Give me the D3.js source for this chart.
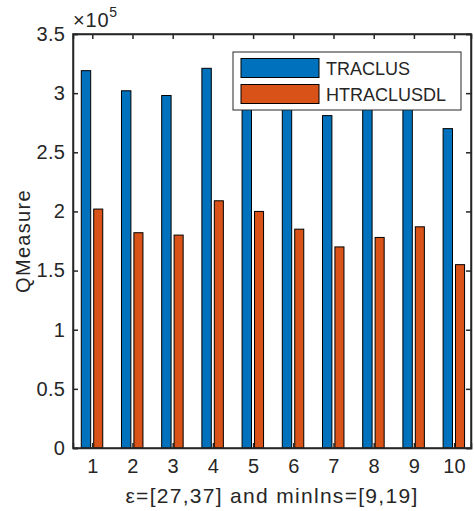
<!DOCTYPE html>
<html>
<head>
<meta charset="utf-8">
<script src="https://cdn.jsdelivr.net/npm/d3@7"></script>
<style>
  body { margin: 0; background: #fff; }
  text { font-family: "Liberation Sans", Arial, sans-serif; fill: #262626; }
</style>
</head>
<body>
<div class="chart"></div>
<script>
// values in units of 10^5
var groups = [1, 2, 3, 4, 5, 6, 7, 8, 9, 10];
var traclus = [3.19, 3.02, 2.98, 3.21, 3.05, 2.95, 2.81, 2.95, 3.0, 2.70];
var htraclusdl = [2.02, 1.82, 1.80, 2.09, 2.00, 1.85, 1.70, 1.78, 1.87, 1.55];
var yTicks = [0, 0.5, 1, 1.5, 2, 2.5, 3, 3.5];
var seriesNames = ["TRACLUS", "HTRACLUSDL"];
var seriesColors = ["#0072BD", "#D95319"];

var svgWidth = 474;
var svgHeight = 511;

var margin = { top: 34, right: 3, bottom: 63, left: 73 };
var width = svgWidth - margin.left - margin.right;
var height = svgHeight - margin.top - margin.bottom;

var svg = d3.select(".chart")
    .append("svg")
    .attr("width", svgWidth)
    .attr("height", svgHeight);

var chartGroup = svg.append("g")
    .attr("transform", `translate(${margin.left}, ${margin.top})`);

var x = d3.scaleLinear().domain([0.52, 10.42]).range([0, width]);
var y = d3.scaleLinear().domain([0, 3.5]).range([height, 0]);

// bar offsets relative to the group centre, in x units
var offsets = [[-0.274, -0.04], [0.035, 0.26]];

[traclus, htraclusdl].forEach(function(vals, s) {
    chartGroup.selectAll(".bar" + s)
        .data(vals)
        .enter()
        .append("rect")
        .attr("x", (d, i) => x(groups[i] + offsets[s][0]))
        .attr("width", x(offsets[s][1]) - x(offsets[s][0]))
        .attr("y", d => y(d))
        .attr("height", d => y(0) - y(d))
        .attr("fill", seriesColors[s])
        .attr("stroke", "#000")
        .attr("stroke-width", 1);
});

// axes, ticks inward
var axisColor = "#262626";
var tickLen = 5;

var leftAxis = d3.axisLeft(y).tickValues(yTicks).tickSize(-tickLen).tickPadding(8)
    .tickFormat(d3.format("~g"));
var bottomAxis = d3.axisBottom(x).tickValues(groups).tickSize(-tickLen).tickPadding(11);
var rightAxis = d3.axisRight(y).tickValues(yTicks).tickSize(-tickLen).tickFormat("");
var topAxis = d3.axisTop(x).tickValues(groups).tickSize(-tickLen).tickFormat("");

function styleAxis(g) {
    g.selectAll("path").attr("stroke", axisColor).attr("stroke-width", 1.5);
    g.selectAll("line").attr("stroke", axisColor).attr("stroke-width", 1.5);
    g.selectAll("text").attr("font-size", 20).attr("fill", axisColor)
        .attr("letter-spacing", 0.2)
        .attr("font-family", "'Liberation Sans', Arial, sans-serif");
}

chartGroup.append("g").call(leftAxis).call(styleAxis);
chartGroup.append("g").attr("transform", `translate(0, ${height})`).call(bottomAxis).call(styleAxis);
chartGroup.append("g").attr("transform", `translate(${width}, 0)`).call(rightAxis).call(styleAxis);
chartGroup.append("g").call(topAxis).call(styleAxis);

chartGroup.append("rect")
    .attr("width", width).attr("height", height)
    .attr("fill", "none").attr("stroke", axisColor).attr("stroke-width", 1.5);

// exponent label
var expo = svg.append("text").attr("x", 73).attr("y", 27).attr("font-size", 20)
    .attr("letter-spacing", 0.8);
expo.append("tspan").text("\u00d710");
expo.append("tspan").attr("font-size", 14).attr("dy", -10).text("5");

// axis titles
svg.append("text")
    .attr("x", margin.left + width / 2)
    .attr("y", 503)
    .attr("text-anchor", "middle")
    .attr("font-size", 21)
    .attr("letter-spacing", 1.3)
    .text("\u03b5=[27,37] and minlns=[9,19]");

svg.append("text")
    .attr("transform", `translate(30, ${margin.top + height / 2}) rotate(-90)`)
    .attr("text-anchor", "middle")
    .attr("font-size", 20)
    .attr("letter-spacing", 1.3)
    .text("QMeasure");

// legend
var legend = svg.append("g").attr("transform", "translate(233, 52)");
legend.append("rect")
    .attr("width", 228).attr("height", 58)
    .attr("fill", "#fff").attr("stroke", "#262626").attr("stroke-width", 1);

seriesNames.forEach(function(name, i) {
    legend.append("rect")
        .attr("x", 8).attr("y", 6.5 + i * 26)
        .attr("width", 78).attr("height", 19)
        .attr("fill", seriesColors[i])
        .attr("stroke", "#000").attr("stroke-width", 1);
    legend.append("text")
        .attr("x", 93).attr("y", 22.5 + i * 26)
        .attr("font-size", 18)
        .text(name);
});
</script>
</body>
</html>
